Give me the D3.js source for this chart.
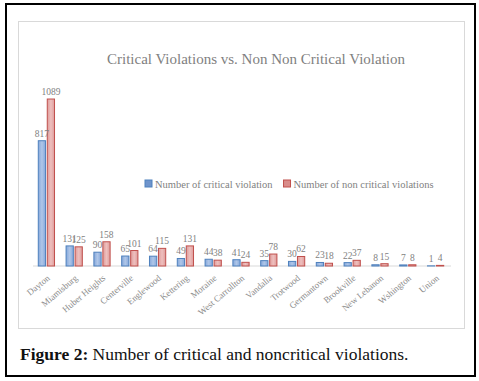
<!DOCTYPE html>
<html>
<head>
<meta charset="utf-8">
<script src="https://cdn.jsdelivr.net/npm/d3@7"></script>
<style>
  body { margin: 0; background: #fff; }
  text { font-family: "Liberation Serif", "Times New Roman", serif; }
</style>
</head>
<body>
<script>
const w = 479;
const h = 381;

// Chart data
const cities = ["Dayton", "Miamisburg", "Huber Heights", "Centerville", "Englewood", "Kettering",
    "Moraine", "West Carrollton", "Vandalia", "Trotwood", "Germantown", "Brookville",
    "New Lebanon", "Wshington", "Union"];
const critical = [817, 131, 90, 65, 64, 49, 44, 41, 35, 30, 23, 22, 8, 7, 1];
const nonCritical = [1089, 125, 158, 101, 115, 131, 38, 24, 78, 62, 18, 37, 15, 8, 4];
const seriesNames = ["Number of critical violation", "Number of non critical violations"];

const colors = [
    { fill: "url(#gBlue)", stroke: "#4f81bd", key: "#6f94cc" },
    { fill: "url(#gRed)", stroke: "#c0504d", key: "#d98c8a" }
];

const rows = cities.map((c, i) => ({ city: c, values: [critical[i], nonCritical[i]] }));

const svg = d3.select("body").append("svg")
    .attr("width", w)
    .attr("height", h);

// gradients like the Excel bars
const defs = svg.append("defs");
function grad(id, a, b) {
    const g = defs.append("linearGradient").attr("id", id)
        .attr("x1", 0).attr("x2", 1).attr("y1", 0).attr("y2", 0);
    g.append("stop").attr("offset", "0%").attr("stop-color", a);
    g.append("stop").attr("offset", "50%").attr("stop-color", b);
    g.append("stop").attr("offset", "100%").attr("stop-color", a);
}
grad("gBlue", "#86a8db", "#afc6e8");
grad("gRed", "#de9c9a", "#eebfbe");

// outer figure border + chart frame
svg.append("rect")
    .attr("x", 6).attr("y", 4).attr("width", 469).attr("height", 372)
    .attr("fill", "none").attr("stroke", "#000").attr("stroke-width", 2);

svg.append("rect")
    .attr("x", 18.5).attr("y", 21.5).attr("width", 446).attr("height", 307)
    .attr("fill", "none").attr("stroke", "#d9d9d9").attr("stroke-width", 1);

// scales
const x0 = d3.scaleBand()
    .domain(cities)
    .range([32.5, 449.5])
    .paddingInner(0.38)
    .paddingOuter(0.19);

const x1 = d3.scaleBand()
    .domain([0, 1])
    .range([0, x0.bandwidth()])
    .paddingInner(0.08);

const y = d3.scaleLinear()
    .domain([0, 1200])
    .range([266, 82]);

// title
svg.append("text")
    .attr("x", 256).attr("y", 64)
    .attr("text-anchor", "middle")
    .attr("font-size", 15)
    .attr("fill", "#7f7f7f")
    .text("Critical Violations vs. Non Non Critical Violation");

// baseline
svg.append("line")
    .attr("x1", 33).attr("x2", 451)
    .attr("y1", y(0)).attr("y2", y(0))
    .attr("stroke", "#d9d9d9");

// bars
const groups = svg.selectAll("g.grp")
    .data(rows)
    .enter()
    .append("g")
    .attr("class", "grp")
    .attr("transform", d => `translate(${x0(d.city)},0)`);

groups.selectAll("rect")
    .data(d => d.values)
    .enter()
    .append("rect")
    .attr("x", (d, i) => x1(i) + 0.5)
    .attr("y", d => y(d))
    .attr("width", x1.bandwidth() - 1)
    .attr("height", d => y(0) - y(d))
    .attr("fill", (d, i) => colors[i].fill)
    .attr("stroke", (d, i) => colors[i].stroke)
    .attr("stroke-width", 1);

groups.selectAll("text.val")
    .data(d => d.values)
    .enter()
    .append("text")
    .attr("class", "val")
    .attr("x", (d, i) => x1(i) + x1.bandwidth() / 2)
    .attr("y", d => y(d) - 4)
    .attr("text-anchor", "middle")
    .attr("font-size", 9.5)
    .attr("fill", "#7f7f7f")
    .text(d => d);

// x axis labels (rotated)
svg.selectAll("text.cat")
    .data(cities)
    .enter()
    .append("text")
    .attr("class", "cat")
    .attr("transform", d => `translate(${x0(d) + x0.bandwidth() / 2 + 4},${y(0) + 13}) rotate(-40)`)
    .attr("text-anchor", "end")
    .attr("font-size", 9)
    .attr("fill", "#8c8c8c")
    .text(d => d);

// legend
const legend = svg.append("g").attr("transform", "translate(145,180)");
let lx = 0;
seriesNames.forEach((name, i) => {
    const g = legend.append("g").attr("transform", `translate(${lx},0)`);
    g.append("rect")
        .attr("x", 0).attr("y", 0).attr("width", 7).attr("height", 7)
        .attr("fill", colors[i].key)
        .attr("stroke", colors[i].stroke);
    const t = g.append("text")
        .attr("x", 10).attr("y", 7.5)
        .attr("font-size", 10.5)
        .attr("fill", "#7f7f7f")
        .text(name);
    lx += 10 + t.node().getComputedTextLength() + 11;
});

// caption
const cap = svg.append("text")
    .attr("x", 20).attr("y", 360)
    .attr("font-size", 17.5)
    .attr("fill", "#111");
cap.append("tspan").attr("font-weight", "bold").text("Figure 2:");
cap.append("tspan").text(" Number of critical and noncritical violations.");
</script>
</body>
</html>
